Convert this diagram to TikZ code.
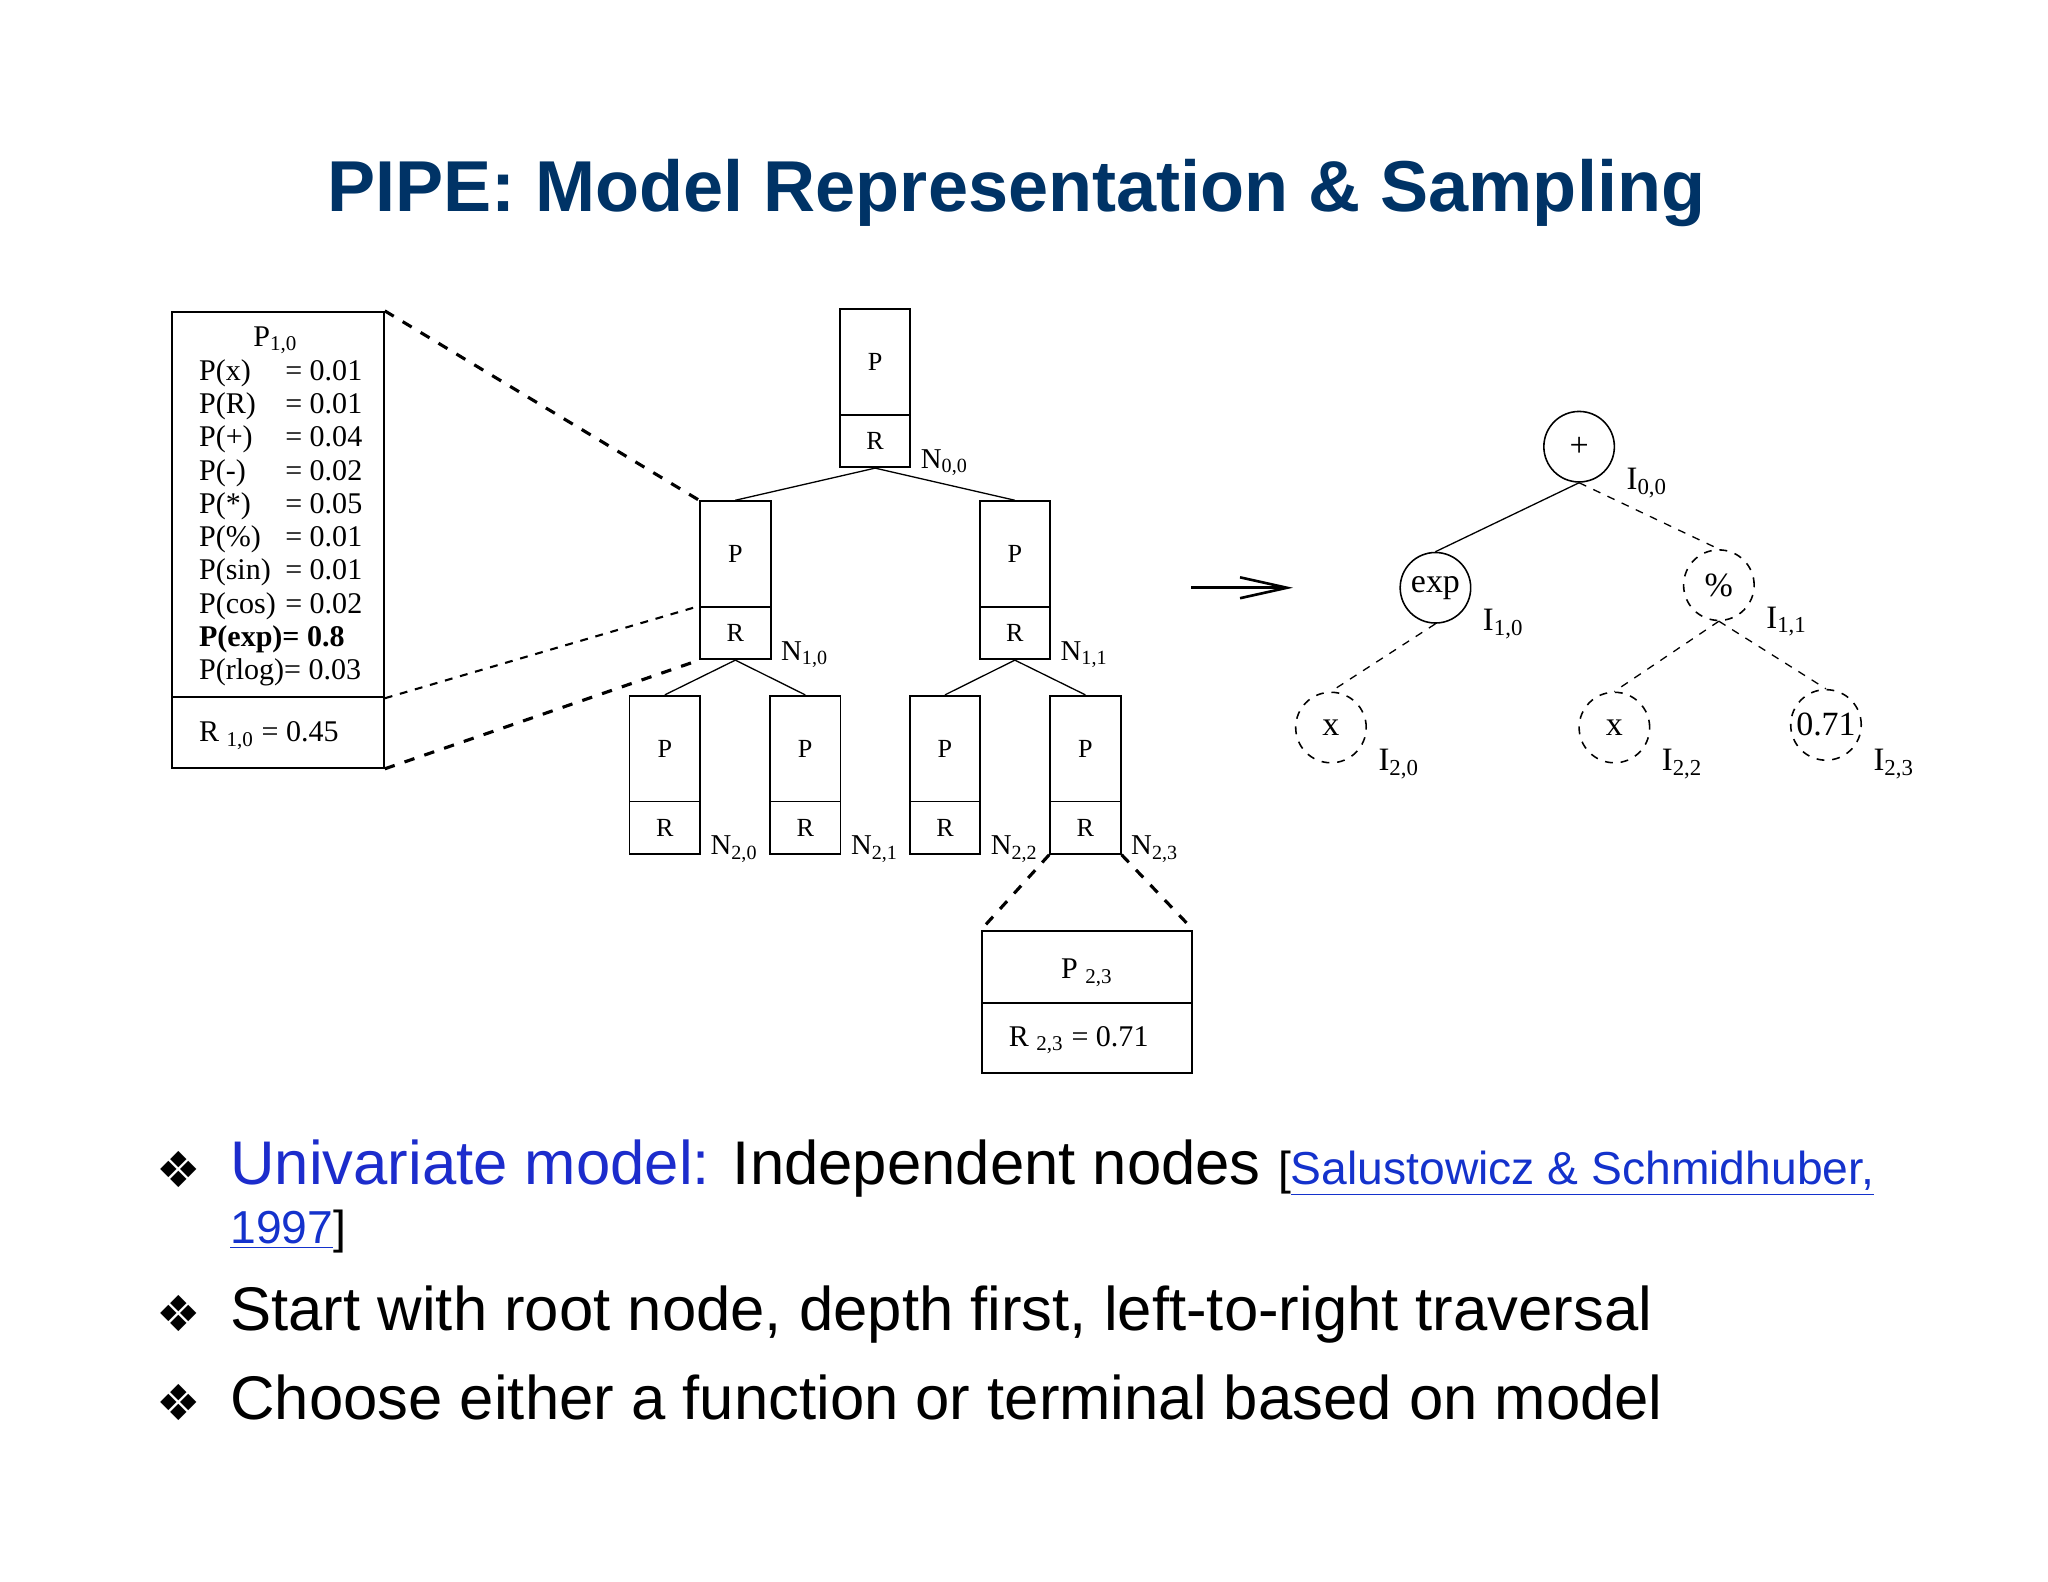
\documentclass[tikz,border=0pt]{standalone}
\usepackage{fontspec}
\setmainfont{Liberation Serif}
\newfontfamily\slidefont{Liberation Sans}
\newfontfamily\dingfont{DejaVu Sans}
\usepackage{xcolor}
\usepackage{tikz}
\usetikzlibrary{positioning,arrows.meta}
\definecolor{titleblue}{RGB}{0,51,102}
\definecolor{keyblue}{RGB}{28,44,204}
\definecolor{linkblue}{RGB}{20,50,204}

\begin{document}
\begin{tikzpicture}[x=0.5pt,y=-0.5pt,
    pbox/.style={draw,line width=0.7pt,minimum width=27pt,minimum height=40.5pt,inner sep=0pt,font=\fontsize{10}{12}\selectfont},
    rbox/.style={draw,line width=0.7pt,minimum width=27pt,minimum height=20pt,inner sep=0pt,font=\fontsize{10}{12}\selectfont},
    bigbox/.style={draw,line width=0.8pt,inner sep=0pt},
    nlab/.style={anchor=base west,inner sep=0pt,font=\fontsize{11}{13}\selectfont},
    ptext/.style={anchor=base west,inner sep=0pt,font=\fontsize{11.5}{13}\selectfont},
    edge/.style={line width=0.5pt},
    zoomline/.style={line width=1.2pt,dash pattern=on 4pt off 4pt},
    tnode/.style={circle,draw,line width=0.6pt,minimum size=27pt,inner sep=0pt,font=\fontsize{13}{15}\selectfont},
    tedge/.style={line width=0.5pt},
    ilab/.style={anchor=base west,inner sep=0pt,font=\fontsize{12.5}{14}\selectfont},
    bullet/.style={inner sep=0pt,font=\dingfont\fontsize{19}{21}\selectfont},
    btext/.style={anchor=base west,inner sep=0pt,font=\slidefont\fontsize{23.6}{28}\selectfont}]
\useasboundingbox (0,0) rectangle (1568,1211);

\node[anchor=base,inner sep=0pt,font=\slidefont\bfseries\fontsize{27.6}{33}\selectfont,text=titleblue] (title) at (778,162) {PIPE: Model Representation \& Sampling};

% tree of P/R nodes
\foreach \nm/\px/\py/\lvl/\idx in {n00/670/236/0/0, n10/563/383/1/0, n11/777/383/1/1,
    n20/509/532/2/0, n21/616.5/532/2/1, n22/723.5/532/2/2, n23/831/532/2/3}{
  \node[pbox,anchor=north] (\nm-p) at (\px,\py) {P};
  \node[rbox,below=-0.7pt of \nm-p] (\nm-r) {R};
  \node[nlab] (\nm-lab) at ([shift={(7,0)}]\nm-r.south east) {N\textsubscript{\lvl,\idx}};
}
\draw[edge] (n00-r.south) -- (n10-p.north);
\draw[edge] (n00-r.south) -- (n11-p.north);
\draw[edge] (n10-r.south) -- (n20-p.north);
\draw[edge] (n10-r.south) -- (n21-p.north);
\draw[edge] (n11-r.south) -- (n22-p.north);
\draw[edge] (n11-r.south) -- (n23-p.north);

% model of node N_{1,0}
\node[bigbox,minimum width=81pt,minimum height=147.5pt,anchor=north west] (p10) at (131,238) {};
\node[bigbox,minimum width=81pt,minimum height=27pt,below=-0.8pt of p10] (r10) {};
\node[anchor=base,inner sep=0pt,font=\fontsize{11.5}{13}\selectfont] (p10-title) at (211,265) {P\textsubscript{1,0}};
\foreach \fn/\pv [count=\k] in {x/0.01, R/0.01, +/0.04, -/0.02, */0.05, \%/0.01, sin/0.01, cos/0.02}{
  \node[ptext] (fn\k) at (152,{291+25.5*(\k-1)}) {P(\fn)};
  \node[ptext] (pv\k) at (218,{291+25.5*(\k-1)}) {= \pv};
}
\node[ptext,font=\fontsize{11.5}{13}\selectfont\bfseries] (fn9) at (152,495) {P(exp)= 0.8};
\node[ptext] (fn10) at (152,520.5) {P(rlog)= 0.03};
\node[ptext] (r10-text) at (152,568) {R \textsubscript{1,0} = 0.45};
\draw[zoomline] (p10.north east) -- (n10-p.north west);
\draw[line width=0.8pt,dash pattern=on 3pt off 3pt] (p10.south east) -- (n10-r.north west);
\draw[zoomline] (r10.south east) -- (n10-r.south west);

% model of node N_{2,3}
\node[bigbox,minimum width=80.5pt,minimum height=27.5pt,anchor=north west] (p23) at (751,712) {};
\node[bigbox,minimum width=80.5pt,minimum height=27pt,below=-0.8pt of p23] (r23) {};
\node[ptext] (p23-text) at (812,749) {P \textsubscript{2,3}};
\node[ptext] (r23-text) at (772,801) {R \textsubscript{2,3} = 0.71};
\draw[zoomline] (n23-r.south west) -- (p23.north west);
\draw[zoomline] (n23-r.south east) -- (p23.north east);

\coordinate (arr-a) at (912,450);
\coordinate (arr-b) at (990,450);
\draw[line width=1pt,-{Straight Barb[length=18pt,width=8pt]}] (arr-a) -- (arr-b);

% sampled program tree
\node[tnode] (plus) at (1209,342) {+};
\node[tnode] (exp) at (1099,450) {exp};
\node[tnode,dashed] (div) at (1316,448) {\%};
\node[tnode,dashed] (x20) at (1019,557) {x};
\node[tnode,dashed] (x22) at (1236,557) {x};
\node[tnode,dashed] (c23) at (1398,555) {0.71};
\draw[tedge] (plus.south) -- (exp.north);
\draw[tedge,dashed] (plus.south) -- (div.north);
\draw[tedge,dashed] (exp.south) -- (x20.north);
\draw[tedge,dashed] (div.south) -- (x22.north);
\draw[tedge,dashed] (div.south) -- (c23.north);
\node[ilab] (plus-lab) at ([shift={(36,33)}]plus.center) {I\textsubscript{0,0}};
\node[ilab] (exp-lab) at ([shift={(36,33)}]exp.center) {I\textsubscript{1,0}};
\node[ilab] (div-lab) at ([shift={(36,33)}]div.center) {I\textsubscript{1,1}};
\node[ilab] (x20-lab) at ([shift={(36,33)}]x20.center) {I\textsubscript{2,0}};
\node[ilab] (x22-lab) at ([shift={(36,33)}]x22.center) {I\textsubscript{2,2}};
\node[ilab] (c23-lab) at ([shift={(36,35)}]c23.center) {I\textsubscript{2,3}};

% bullets
\node[bullet] (b1) at (137,895) {❖};
\node[bullet] (b2) at (137,1006) {❖};
\node[bullet] (b3) at (137,1074) {❖};
\node[btext] (t1) at (176,907) {\textcolor{keyblue}{Univariate model:} Independent nodes {\fontsize{17.7}{20}\selectfont[\textcolor{linkblue}{\underline{Salustowicz \& Schmidhuber,}}}};
\node[btext,font=\slidefont\fontsize{17.7}{20}\selectfont] (t1b) at (176,952) {\textcolor{linkblue}{\underline{1997}}]};
\node[btext] (t2) at (176,1019) {Start with root node, depth first, left-to-right traversal};
\node[btext] (t3) at (176,1087) {Choose either a function or terminal based on model};
\end{tikzpicture}
\end{document}
